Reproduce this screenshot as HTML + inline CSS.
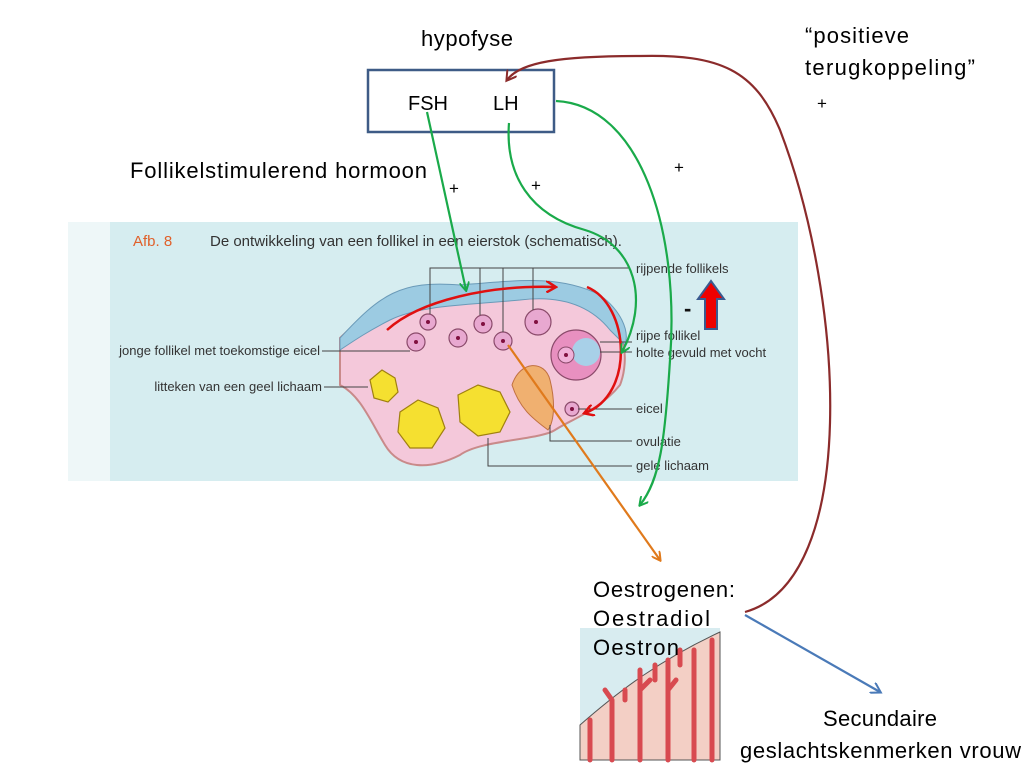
<!DOCTYPE html>
<html><head><meta charset="utf-8"><style>
html,body{margin:0;padding:0;background:#fff}
svg{display:block}
text{font-family:"Liberation Sans",sans-serif}
</style></head><body>
<svg width="1024" height="768" viewBox="0 0 1024 768" xmlns="http://www.w3.org/2000/svg">
<defs>
<marker id="ag" markerWidth="10" markerHeight="10" refX="8" refY="5" orient="auto" markerUnits="userSpaceOnUse"><path d="M0,0 L9,5 L0,10" fill="none" stroke="#1aaa4a" stroke-width="2"/></marker>
<marker id="ao" markerWidth="10" markerHeight="10" refX="8" refY="5" orient="auto" markerUnits="userSpaceOnUse"><path d="M0,0 L9,5 L0,10" fill="none" stroke="#e07a1c" stroke-width="2"/></marker>
<marker id="ab" markerWidth="12" markerHeight="12" refX="9" refY="6" orient="auto" markerUnits="userSpaceOnUse"><path d="M0,0 L10,6 L0,12" fill="none" stroke="#4a7ab8" stroke-width="2"/></marker>
<marker id="ar" markerWidth="12" markerHeight="12" refX="9" refY="6" orient="auto" markerUnits="userSpaceOnUse"><path d="M0,0 L10,6 L0,12" fill="none" stroke="#e01010" stroke-width="2.5"/></marker>
<marker id="abr" markerWidth="12" markerHeight="12" refX="9" refY="6" orient="auto" markerUnits="userSpaceOnUse"><path d="M0,0 L10,6 L0,12" fill="none" stroke="#8b2b2b" stroke-width="2"/></marker>
</defs>

<rect x="68" y="222" width="730" height="259" fill="#d6edf0"/>
<rect x="68" y="222" width="42" height="259" fill="#eef7f8"/>
<text x="133" y="246" font-size="15" fill="#e0602a">Afb. 8</text>
<text x="210" y="246" font-size="15" fill="#333">De ontwikkeling van een follikel in een eierstok (schematisch).</text>
<path d="M340,338 C380,300 400,285 460,290 C520,288 560,280 600,300 C625,320 630,360 620,385 C600,410 570,420 555,430 C540,440 480,440 460,455 C430,470 400,470 385,445 C370,420 360,395 340,385 Z" fill="#f4c8da" stroke="#c98a8a" stroke-width="2"/>
<path d="M340,338 C380,295 400,280 460,285 C520,280 560,275 600,295 C620,310 630,330 625,345 L610,330 C590,305 560,295 520,300 C470,305 420,305 390,320 C370,330 355,340 340,350 Z" fill="#9ccbe2" stroke="#6a9ab8" stroke-width="1"/>
<g stroke="#8a4a6a" stroke-width="1.2" fill="#e8a8d0">
<circle cx="428" cy="322" r="8"/><circle cx="416" cy="342" r="9"/><circle cx="458" cy="338" r="9"/>
<circle cx="483" cy="324" r="9"/><circle cx="503" cy="341" r="9"/><circle cx="538" cy="322" r="13"/>
<circle cx="576" cy="355" r="25" fill="#e890c0"/><circle cx="572" cy="409" r="7"/>
</g>
<circle cx="586" cy="352" r="14" fill="#a8d0e8"/>
<circle cx="566" cy="355" r="8" fill="#f0b0d8" stroke="#8a4a6a"/>
<g fill="#801040"><circle cx="428" cy="322" r="2"/><circle cx="416" cy="342" r="2"/><circle cx="458" cy="338" r="2"/><circle cx="483" cy="324" r="2"/><circle cx="503" cy="341" r="2"/><circle cx="536" cy="322" r="2"/><circle cx="566" cy="355" r="2"/><circle cx="572" cy="409" r="2"/></g>
<path d="M512,385 C520,360 545,360 550,380 C555,400 555,420 548,430 C535,420 520,410 512,385 Z" fill="#f0b070" stroke="#c07040"/>
<g fill="#f5e030" stroke="#a08010" stroke-width="1.2">
<path d="M370,380 L382,370 L395,378 L398,392 L388,402 L374,398 Z"/>
<path d="M400,412 L418,400 L438,408 L445,428 L432,448 L410,448 L398,432 Z"/>
<path d="M458,395 L478,385 L500,392 L510,412 L500,432 L478,436 L460,422 Z"/>
</g>
<g stroke="#444" stroke-width="1" fill="none">
<path d="M430,314 V268 H630"/><path d="M480,315 V268"/><path d="M503,332 V268"/><path d="M533,310 V268"/>
<path d="M322,351 H410"/><path d="M324,387 H368"/>
<path d="M600,342 H632"/><path d="M600,352 H632"/><path d="M578,409 H632"/>
<path d="M550,425 V441 H632"/><path d="M488,438 V466 H632"/>
</g>
<g font-size="13" fill="#333">
<text x="636" y="273">rijpende follikels</text>
<text x="636" y="340">rijpe follikel</text>
<text x="636" y="357">holte gevuld met vocht</text>
<text x="636" y="413">eicel</text>
<text x="636" y="446">ovulatie</text>
<text x="636" y="470">gele lichaam</text>
<text x="320" y="355" text-anchor="end">jonge follikel met toekomstige eicel</text>
<text x="322" y="391" text-anchor="end">litteken van een geel lichaam</text>
</g>
<path d="M387,330 C420,300 490,285 555,287" fill="none" stroke="#e01010" stroke-width="2.5" marker-end="url(#ar)"/>
<path d="M587,287 C630,305 635,395 585,413" fill="none" stroke="#e01010" stroke-width="2.5" marker-end="url(#ar)"/>
<path d="M711,281 L724,299 L717,299 L717,329 L705,329 L705,299 L698,299 Z" fill="#ee0000" stroke="#3a5a90" stroke-width="2"/>
<text x="684" y="316" font-size="22" font-weight="bold" fill="#111">-</text>

<rect x="580" y="628" width="140" height="132" fill="#d8ecf0"/>
<path d="M580,725 C620,690 660,660 720,632 L720,760 L580,760 Z" fill="#f3cfc5" stroke="#555" stroke-width="1"/>
<g stroke="#d84a50" stroke-width="5" fill="none" stroke-linecap="round">
<path d="M590,760 V720"/><path d="M612,760 V700 M612,700 L605,690"/><path d="M640,760 V670 M640,690 L650,680"/>
<path d="M668,760 V660 M668,690 L676,680"/><path d="M694,760 V650"/><path d="M712,760 V640"/>
<path d="M625,700 V690"/><path d="M655,680 V665"/><path d="M680,665 V650"/>
</g>

<rect x="368" y="70" width="186" height="62" fill="#fff" stroke="#3e5b86" stroke-width="2.5"/>
<g font-size="22" fill="#000">
<text x="421" y="46" textLength="92">hypofyse</text>
<text x="408" y="110" font-size="20">FSH</text>
<text x="493" y="110" font-size="20">LH</text>
<text x="805" y="43" textLength="104">“positieve</text>
<text x="805" y="75" textLength="170">terugkoppeling”</text>
<text x="130" y="178" textLength="297">Follikelstimulerend hormoon</text>
<text x="593" y="597" textLength="142">Oestrogenen:</text>
<text x="593" y="626" textLength="117">Oestradiol</text>
<text x="593" y="655" textLength="86">Oestron</text>
<text x="823" y="726" textLength="114">Secundaire</text>
<text x="740" y="758" textLength="281">geslachtskenmerken vrouw</text>
</g>
<g font-size="17" fill="#000">
<text x="817" y="109">+</text><text x="449" y="194">+</text><text x="531" y="191">+</text><text x="674" y="173">+</text>
</g>

<path d="M427,112 L466,290" stroke="#1aaa4a" stroke-width="2.2" fill="none" marker-end="url(#ag)"/>
<path d="M509,123 C505,175 530,215 585,230 C635,245 650,300 622,352" stroke="#1aaa4a" stroke-width="2.2" fill="none" marker-end="url(#ag)"/>
<path d="M556,101 C640,105 680,230 670,360 C665,440 660,480 640,505" stroke="#1aaa4a" stroke-width="2.2" fill="none" marker-end="url(#ag)"/>
<path d="M508,345 L660,560" stroke="#e07a1c" stroke-width="2.2" fill="none" marker-end="url(#ao)"/>
<path d="M745,612 C860,580 845,300 780,130 C755,70 720,54 640,56 C560,56 520,62 507,80" stroke="#8b2b2b" stroke-width="2.2" fill="none" marker-end="url(#abr)"/>
<path d="M745,615 L880,692" stroke="#4a7ab8" stroke-width="2.2" fill="none" marker-end="url(#ab)"/>
</svg>
</body></html>
